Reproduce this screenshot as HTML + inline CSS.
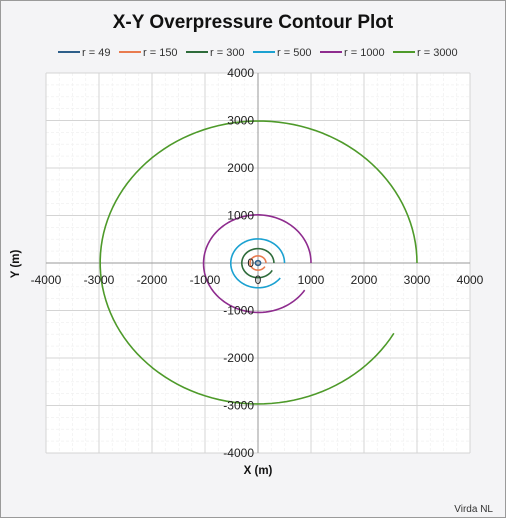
<!DOCTYPE html>
<html><head><meta charset="utf-8"><style>
body{margin:0;background:#fff}
#wrap{position:relative;width:504px;height:516px;border:1px solid #9a9a9a;background:#f4f4f6;font-family:"Liberation Sans",sans-serif;overflow:hidden}
</style></head><body>
<div id="wrap">
<svg id="chart" width="504" height="516" xmlns="http://www.w3.org/2000/svg"></svg>
</div>
<script>
const seriesNames = ["r = 49","r = 150","r = 300","r = 500","r = 1000","r = 3000"];
const radii = [49,150,300,500,1000,3000];
const endRadii = [49,150,310,525,1050,2960];
const sweepDeg = [360,330,330,323,327,330];
const colors = ["#2e5f8a","#e97b4f","#2e6b3a","#1ba1d1","#8e2c8e","#4e9a2a"];
const ticks = [-4000,-3000,-2000,-1000,0,1000,2000,3000,4000];

const NS="http://www.w3.org/2000/svg";
const svg=document.getElementById('chart');
const X0=45,X1=469,Y0=72,Y1=452;
const xs=v=>X0+(v+4000)/8000*(X1-X0);
const ys=v=>Y1-(v+4000)/8000*(Y1-Y0);
function mk(t,a,p){const e=document.createElementNS(NS,t);for(const k in a)e.setAttribute(k,a[k]);(p||svg).appendChild(e);return e;}

const bg=mk('rect',{x:X0,y:Y0,width:X1-X0,height:Y1-Y0,fill:'#fff'});


for(let v=-4000;v<=4000;v+=250){
  if(v%1000===0)continue;
  mk('line',{x1:xs(v),x2:xs(v),y1:Y0,y2:Y1,stroke:'#f0f0f0','stroke-width':0.7,'stroke-dasharray':'3,2'});
  mk('line',{x1:X0,x2:X1,y1:ys(v),y2:ys(v),stroke:'#f0f0f0','stroke-width':0.7,'stroke-dasharray':'3,2'});
}
ticks.forEach(v=>{
  const g1=mk('line',{x1:xs(v),x2:xs(v),y1:Y0,y2:Y1,stroke:'#d4d4d4','stroke-width':1});
  
  
  const g2=mk('line',{x1:X0,x2:X1,y1:ys(v),y2:ys(v),stroke:'#d4d4d4','stroke-width':1});
  
  
});
const ax=mk('line',{x1:X0,x2:X1,y1:ys(0),y2:ys(0),stroke:'#9a9a9a','stroke-width':1});


const ay=mk('line',{x1:xs(0),x2:xs(0),y1:Y0,y2:Y1,stroke:'#9a9a9a','stroke-width':1});



radii.forEach((r,i)=>{
  let d='';const n=120;
  for(let k=0;k<=n;k++){
    const t=k/n, a=t*sweepDeg[i]*Math.PI/180, rr=r+(endRadii[i]-r)*t;
    d+=(k?'L':'M')+xs(rr*Math.cos(a)).toFixed(2)+','+ys(rr*Math.sin(a)).toFixed(2);
  }
  const p=mk('path',{d:d,fill:'none',stroke:colors[i],'stroke-width':1.6});
  
  
});

ticks.forEach(v=>{
  const t=mk('text',{x:xs(v),y:ys(0)+21,'font-size':12,'text-anchor':'middle',fill:'#222'});
  t.textContent=v;
  
  
  const u=mk('text',{x:xs(0)-4,y:ys(v)+4,'font-size':12,'text-anchor':'end',fill:'#222'});
  u.textContent=v;
  
  
});

const title=mk('text',{x:252,y:27,'font-size':19,'font-weight':'bold','text-anchor':'middle',fill:'#111'});
title.textContent='X-Y Overpressure Contour Plot';



const lx=[57,118,185,252,319,392];
seriesNames.forEach((s,i)=>{
  const g=mk('g',{});
  
  
  mk('line',{x1:lx[i],x2:lx[i]+22,y1:51,y2:51,stroke:colors[i],'stroke-width':2},g);
  const t=mk('text',{x:lx[i]+24,y:55,'font-size':11,fill:'#333'},g);
  t.textContent=s;
});

const xt=mk('text',{x:257,y:473,'font-size':11.5,'font-weight':'bold','text-anchor':'middle',fill:'#111'});
xt.textContent='X (m)';


const yt=mk('text',{x:0,y:0,'font-size':11.5,'font-weight':'bold','text-anchor':'middle',fill:'#111',transform:'translate(18,263) rotate(-90)'});
yt.textContent='Y (m)';


const vn=mk('text',{x:492,y:511,'font-size':10,'text-anchor':'end',fill:'#333'});
vn.textContent='Virda NL';


</script>
</body></html>
